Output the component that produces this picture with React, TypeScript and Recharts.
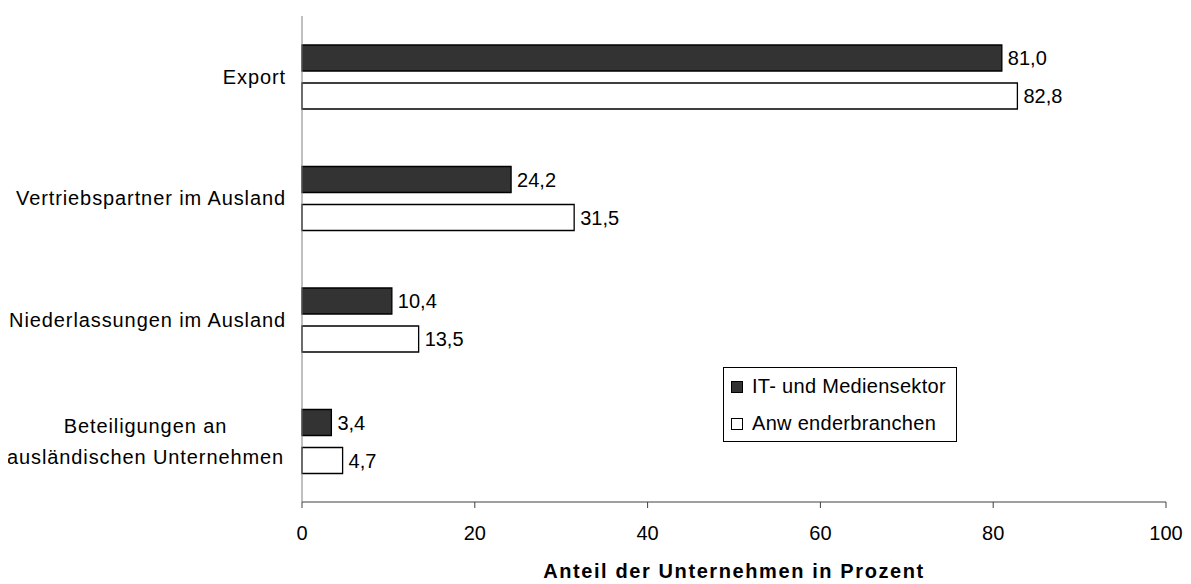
import { BarChart, Bar, XAxis, YAxis, Legend, LabelList, Label } from 'recharts';

// categories top to bottom; '\n' marks a forced line break in the axis label
const categories = [
  'Export',
  'Vertriebspartner im Ausland',
  'Niederlassungen im Ausland',
  'Beteiligungen an\nausländischen Unternehmen',
];
const itMedien = [81.0, 24.2, 10.4, 3.4];
const anwender = [82.8, 31.5, 13.5, 4.7];
const xTicks = [0, 20, 40, 60, 80, 100];

const seriesNames = ['IT- und Mediensektor', 'Anw enderbranchen'];
const seriesColors = ['#333333', '#ffffff'];

const data = categories.map((name, i) => ({ name, it: itMedien[i], anw: anwender[i] }));

const FONT = '"Liberation Sans", Arial, sans-serif';

const fmt = (v: any) => Number(v).toFixed(1).replace('.', ',');

const CategoryTick = (props: any) => {
  const { x, y, payload } = props;
  const lines = String(payload.value).split('\n');
  if (lines.length === 1) {
    return (
      <text x={x} y={y} dy="0.355em" textAnchor="end" fontSize={20} fill="#000" fontFamily={FONT} letterSpacing={0.9}>
        {lines[0]}
      </text>
    );
  }
  // multi-line labels are centred as a block, like the original
  const lineH = 31;
  return (
    <text x={x - 140.5} y={y} textAnchor="middle" fontSize={20} fill="#000" fontFamily={FONT} letterSpacing={0.9}>
      {lines.map((l, i) => (
        <tspan key={i} x={x - 140.5} y={y + (i - (lines.length - 1) / 2) * lineH} dy="0.355em">
          {l}
        </tspan>
      ))}
    </text>
  );
};

const LegendBox = () => (
  <div
    style={{
      border: '1px solid #000',
      background: '#fff',
      width: 232,
      height: 73,
      boxSizing: 'content-box',
      fontFamily: FONT,
      fontSize: 20,
      color: '#000',
      letterSpacing: 0.3,
    }}
  >
    {seriesNames.map((name, i) => (
      <div key={name} style={{ display: 'flex', alignItems: 'center', height: 37, paddingLeft: 7 }}>
        <span
          style={{
            display: 'inline-block',
            width: 10,
            height: 10,
            border: '1px solid #000',
            background: seriesColors[i],
            marginRight: 9,
          }}
        />
        <span>{name}</span>
      </div>
    ))}
  </div>
);

export default function App() {
  return (
    <BarChart
      width={1183}
      height={576}
      data={data}
      layout="vertical"
      margin={{ top: 8, right: 25, bottom: 0, left: 0 }}
      barSize={26}
      barGap={12}
      style={{ fontFamily: FONT }}
    >
      <XAxis
        type="number"
        domain={[0, 100]}
        ticks={xTicks}
        height={82}
        tickSize={6}
        tickMargin={18}
        stroke="#404040"
        tick={{ fill: '#000', fontSize: 20, fontFamily: FONT }}
      >
        <Label
          value="Anteil der Unternehmen in Prozent"
          position="insideBottom"
          offset={6}
          style={{ fontWeight: 'bold', fontSize: 20, fill: '#000', fontFamily: FONT, letterSpacing: 1.6 }}
        />
      </XAxis>
      <YAxis
        type="category"
        dataKey="name"
        width={294}
        tickLine={false}
        tickSize={0}
        tickMargin={16}
        stroke="#808080"
        tick={<CategoryTick />}
        interval={0}
      />
      <Legend
        layout="vertical"
        align="center"
        verticalAlign="middle"
        content={<LegendBox />}
        wrapperStyle={{ left: 715, top: 359, width: 234, height: 75 }}
      />
      <Bar dataKey="it" name={seriesNames[0]} fill={seriesColors[0]} stroke="#000" strokeWidth={1.3} isAnimationActive={false}>
        <LabelList dataKey="it" position="right" offset={6} formatter={fmt} fill="#000" fontSize={20} fontFamily={FONT} />
      </Bar>
      <Bar dataKey="anw" name={seriesNames[1]} fill={seriesColors[1]} stroke="#000" strokeWidth={1.3} isAnimationActive={false}>
        <LabelList dataKey="anw" position="right" offset={6} formatter={fmt} fill="#000" fontSize={20} fontFamily={FONT} />
      </Bar>
    </BarChart>
  );
}
